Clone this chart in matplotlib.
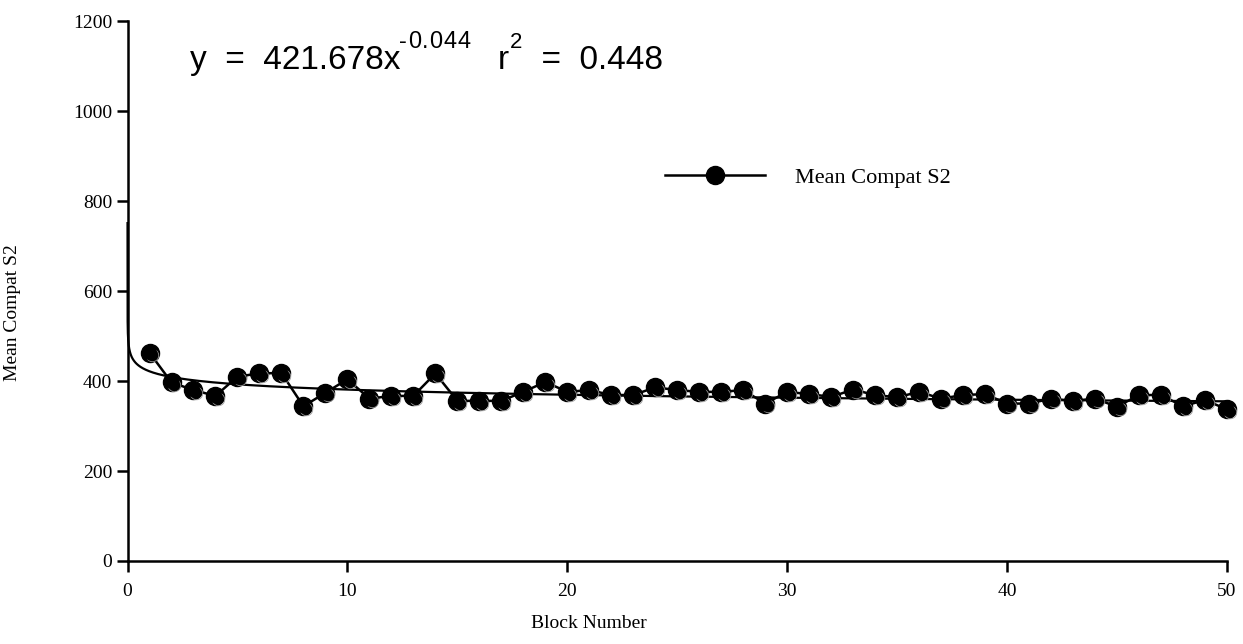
import numpy as np
import matplotlib
matplotlib.use("Agg")
import matplotlib.pyplot as plt

# block number vs mean compat S2
blocks = list(range(1, 51))
mean_compat_s2 = [463, 397, 380, 367, 410, 417, 418, 344, 374, 404,
                  361, 367, 367, 417, 356, 356, 356, 376, 398, 376,
                  380, 369, 369, 386, 380, 376, 376, 380, 350, 376,
                  371, 365, 381, 369, 364, 376, 361, 369, 371, 350,
                  350, 361, 356, 361, 343, 369, 369, 344, 358, 337]

# power fit reported on the chart
fit_a = 421.678
fit_b = -0.044
fit_r2 = 0.448

plt.rcParams['font.family'] = ['Liberation Serif', 'DejaVu Serif']
sans = ['Liberation Sans', 'DejaVu Sans']

W, H = 1243, 644
fig = plt.figure(figsize=(W / 100, H / 100), dpi=100)
ax = fig.add_axes([0.1026, 0.1289, 0.8845, 0.8381])

# fit curve
xf = np.logspace(np.log10(2e-6), np.log10(50), 400)
ax.plot(xf, fit_a * xf ** fit_b, color='black', lw=1.6, zorder=3, clip_on=False)

ax.plot(blocks, mean_compat_s2, color='black', lw=1.8, marker='o',
        markersize=13, markerfacecolor='black', markeredgecolor='black',
        label='Mean Compat S2', zorder=4, clip_on=False)
# small highlight on the balls
ax.plot(np.array(blocks) + 0.12, np.array(mean_compat_s2) - 6, ls='none', marker='o',
        markersize=9, markerfacecolor='none', markeredgecolor='#9a9a9a',
        markeredgewidth=0.6, zorder=4.5, clip_on=False)
ax.plot(blocks, mean_compat_s2, ls='none', marker='o', markersize=10,
        markerfacecolor='black', markeredgecolor='none', zorder=4.6, clip_on=False)

ax.set_xlim(0, 50)
ax.set_ylim(0, 1200)
ax.set_xticks([0, 10, 20, 30, 40, 50])
ax.set_yticks([0, 200, 400, 600, 800, 1000, 1200])
ax.spines['top'].set_visible(False)
ax.spines['right'].set_visible(False)
for s in ['left', 'bottom']:
    ax.spines[s].set_linewidth(1.8)
ax.tick_params(direction='out', length=8, width=1.8, labelsize=14)
ax.tick_params(axis='y', pad=3)
ax.tick_params(axis='x', pad=8)

ax.set_xlabel('Block Number', fontsize=14)
ax.xaxis.set_label_coords(0.42, -0.1)
ax.set_ylabel('Mean Compat S2', fontsize=14)
ax.yaxis.set_label_coords(-0.097, 0.46)


# equation, placed piece by piece in pixel coordinates (top-left origin)
def put(s, x, base, size, spacing=0.0):
    for ch in (s if spacing else [s]):
        t = fig.text(x / W, 1 - base / H, ch, fontsize=size, family=sans, va='baseline')
        fig.canvas.draw()
        x = t.get_window_extent().x1 + spacing
    return x


x = put('y  =  421.678x', 190, 69, 24)
x = put('-0.044', x - 1, 48, 17, spacing=0.8)
x = put('r', x + 27, 69, 24)
x = put('2', x + 1, 48, 16)
put('  =  %.3f' % fit_r2, x, 69, 24)

ax.legend(loc='center left', bbox_to_anchor=(0.471, 0.71), frameon=False,
          handlelength=4.5, handletextpad=1.35, fontsize=16)

fig.savefig('out.png', dpi=100)
